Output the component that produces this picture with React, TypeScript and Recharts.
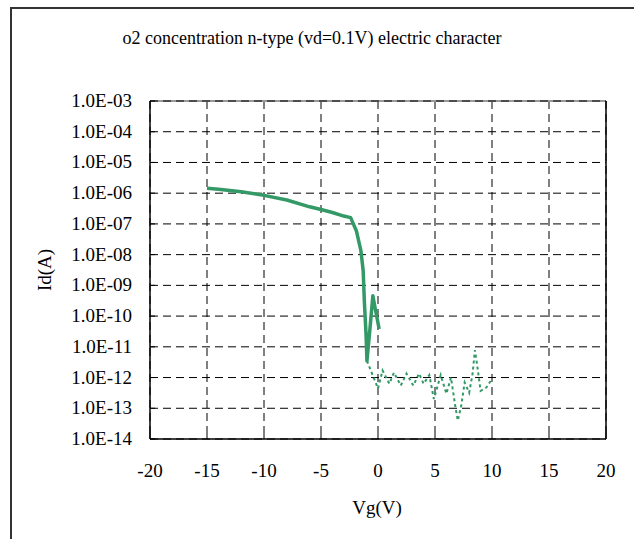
import React from 'react';
import { LineChart, Line, XAxis, YAxis, CartesianGrid, ReferenceLine } from 'recharts';

const FONT = '"Liberation Serif", "Times New Roman", serif';

const titleText = 'o2 concentration n-type (vd=0.1V) electric character';
const xAxisTitle = 'Vg(V)';
const yAxisTitle = 'Id(A)';

const xTicks = [-20, -15, -10, -5, 0, 5, 10, 15, 20];
const yTicks = [1e-14, 1e-13, 1e-12, 1e-11, 1e-10, 1e-9, 1e-8, 1e-7, 1e-6, 1e-5, 1e-4, 1e-3];

// main (solid) Id-Vg curve
const vgMain = [-15, -14, -12, -10, -8, -6, -5, -4, -3, -2.4, -1.9, -1.5, -1.3, -1.2, -1.05, -0.97, -0.7, -0.45, -0.26, 0.1];
const idMain = [1.45e-6, 1.35e-6, 1.12e-6, 8.5e-7, 6.0e-7, 3.6e-7, 2.95e-7, 2.35e-7, 1.8e-7, 1.6e-7, 6.0e-8, 1.35e-8, 3.0e-9, 3.2e-10, 2.6e-11, 3.5e-12, 4.1e-11, 4.6e-10, 1.9e-10, 3.8e-11];

// noise floor (dotted) segment
const vgNoise = [-0.97, 0, 0.4, 1.0, 1.4, 2.0, 2.5, 3.1, 3.6, 4.0, 4.5, 4.9, 5.5, 6.0, 6.4, 6.8, 7.0, 7.3, 7.6, 8.0, 8.3, 8.5, 8.7, 9.0, 9.5, 9.9];
const idNoise = [3.5e-12, 4.4e-13, 1.7e-12, 6.3e-13, 1.45e-12, 5.5e-13, 1.35e-12, 5.5e-13, 1.35e-12, 6.3e-13, 1.2e-12, 2.0e-13, 1.2e-12, 3.0e-13, 1.0e-12, 1.05e-13, 4.0e-14, 1.2e-13, 6.9e-13, 3.2e-13, 1.35e-12, 7.8e-12, 2.5e-12, 3.7e-13, 4.7e-13, 7.9e-13];

const mainData = vgMain.map((vg, i) => ({ vg, id: idMain[i] }));
const noiseData = vgNoise.map((vg, i) => ({ vg, id: idNoise[i] }));

const fmtY = (v: number) => {
  const e = Math.round(Math.log10(v));
  const s = Math.abs(e).toString().padStart(2, '0');
  return `1.0E${e < 0 ? '-' : '+'}${s}`;
};

const GREEN = '#339966';
const FS = 19;

const YTick = (props: any) => {
  const { x, y, payload } = props;
  return (
    <g>
      <line x1={x + 18} x2={x + 23} y1={y} y2={y} stroke="#000" strokeWidth={1} />
      <text x={x} y={y + 6} textAnchor="end" fontFamily={FONT} fontSize={FS} fill="#000">
        {fmtY(payload.value)}
      </text>
    </g>
  );
};

const XTick = (props: any) => {
  const { x, y, payload } = props;
  return (
    <g>
      <line x1={x} x2={x} y1={y} y2={y - 5} stroke="#000" strokeWidth={1} />
      <text x={x} y={y + 38} textAnchor="middle" fontFamily={FONT} fontSize={FS} fill="#000">
        {payload.value}
      </text>
    </g>
  );
};

export default function App() {
  return (
    <div style={{ position: 'absolute', left: 0, top: 0, width: 634, height: 539, overflow: 'hidden', background: '#fff' }}>
      <div style={{ position: 'absolute', left: 10, top: 7, width: 700, height: 600, borderLeft: '2px solid #333', borderTop: '2px solid #333' }} />
      <div style={{ position: 'absolute', left: 0, top: 28, width: 624, textAlign: 'center', fontFamily: FONT, fontSize: 18, lineHeight: '20px', color: '#000' }}>
        {titleText}
      </div>
      <div style={{ position: 'absolute', left: 0, top: 0 }}>
        <LineChart width={634} height={539} margin={{ top: 101, right: 28, bottom: 70, left: 0 }}>
          <CartesianGrid stroke="#000" strokeDasharray="8 5" strokeWidth={1} />
          <XAxis
            dataKey="vg"
            type="number"
            domain={[-20, 20]}
            ticks={xTicks}
            allowDataOverflow
            height={30}
            tickSize={0}
            tickMargin={0}
            axisLine={{ stroke: '#000', strokeWidth: 1.5 }}
            tickLine={false}
            tick={<XTick />}
            interval={0}
            label={(p: any) => (
              <text x={377} y={514} textAnchor="middle" fontFamily={FONT} fontSize={FS} fill="#000">{xAxisTitle}</text>
            )}
          />
          <YAxis
            type="number"
            scale="log"
            domain={[1e-14, 1e-3]}
            ticks={yTicks}
            allowDataOverflow
            width={150}
            tickSize={0}
            tickMargin={18}
            axisLine={{ stroke: '#000', strokeWidth: 1.5 }}
            tickLine={false}
            tick={<YTick />}
            interval={0}
            label={(p: any) => (
              <text x={44} y={270} transform="rotate(-90 44 270)" textAnchor="middle" dominantBaseline="central" fontFamily={FONT} fontSize={FS} fill="#000">{yAxisTitle}</text>
            )}
          />
          <ReferenceLine y={1e-3} stroke="#999" strokeWidth={2} />
          <ReferenceLine y={1e-3} stroke="#000" strokeDasharray="8 5" strokeWidth={1} />
          <ReferenceLine x={20} stroke="#000" strokeWidth={1.5} />
          <Line data={noiseData} dataKey="id" type="linear" stroke={GREEN} strokeWidth={2} strokeDasharray="3 3" dot={false} isAnimationActive={false} />
          <Line data={mainData} dataKey="id" type="linear" stroke={GREEN} strokeWidth={3.5} strokeLinejoin="round" dot={false} isAnimationActive={false} />
        </LineChart>
      </div>
    </div>
  );
}
